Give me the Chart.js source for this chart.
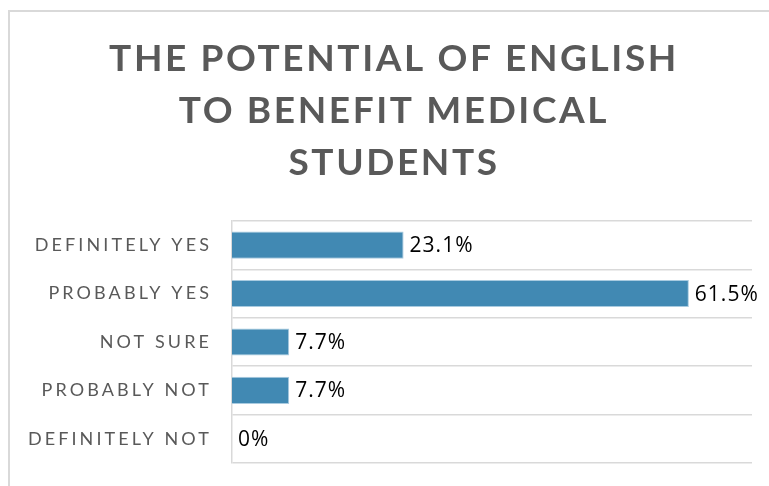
<!DOCTYPE html>
<html>
<head>
<meta charset="utf-8">
<script src="https://cdn.jsdelivr.net/npm/chart.js@4/dist/chart.umd.min.js"></script>
<style>
  html, body { margin: 0; padding: 0; background: #fff; }
  #wrap { width: 769px; height: 486px; position: relative; }
</style>
</head>
<body>
<div id="wrap"><canvas id="chart"></canvas></div>
<script>
// Survey answers, top to bottom
var categories = ['DEFINITELY YES', 'PROBABLY YES', 'NOT SURE', 'PROBABLY NOT', 'DEFINITELY NOT'];
var percentages = [23.1, 61.5, 7.7, 7.7, 0];
var valueLabels = ['23.1%', '61.5%', '7.7%', '7.7%', '0%'];
var titleLines = ['THE POTENTIAL OF ENGLISH', 'TO BENEFIT MEDICAL', 'STUDENTS'];

var gray = '#595959';
var lineGray = '#d9d9d9';

// letter spacing for the title and the category labels
var spacing = {
    id: 'spacing',
    beforeDraw: function(chart) {
        var y = chart.scales.y;
        if (y && !y._spaced) {
            var drawLabels = y.drawLabels;
            y._computeLabelArea = function() { return undefined; };  // long labels run past the axis box
            y.drawLabels = function(area) {
                var c = this.ctx;
                c.save();
                c.letterSpacing = '3.1px';
                drawLabels.call(this, area);
                c.restore();
            };
            y._spaced = true;
        }
        var t = chart.titleBlock;
        if (t && !t._spaced) {
            var drawTitle = t.draw;
            t.draw = function() {
                var c = this.ctx;
                c.save();
                c.letterSpacing = '2.6px';
                drawTitle.apply(this, arguments);
                c.restore();
            };
            t._spaced = true;
        }
    }
};

// thin frame along the top and left
var frame = {
    id: 'frame',
    beforeDraw: function(chart) {
        var c = chart.ctx;
        c.save();
        c.strokeStyle = lineGray;
        c.lineWidth = 2;
        c.beginPath();
        c.moveTo(9, chart.height);
        c.lineTo(9, 11);
        c.lineTo(chart.width, 11);
        c.stroke();
        c.restore();
    }
};

// value labels just past the end of each bar
var barLabels = {
    id: 'barLabels',
    afterDatasetsDraw: function(chart) {
        var c = chart.ctx;
        var meta = chart.getDatasetMeta(0);
        c.save();
        c.letterSpacing = '1px';
        c.font = '21px "Open Sans"';
        c.fillStyle = '#000';
        c.textAlign = 'left';
        c.textBaseline = 'middle';
        meta.data.forEach(function(bar, i) {
            c.fillText(valueLabels[i], bar.x + 6, bar.y + 1);
        });
        c.restore();
    }
};

var ctx = document.getElementById('chart').getContext('2d');
var chart = new Chart(ctx, {
    type: 'bar',
    data: {
        labels: categories,
        datasets: [{
            data: percentages,
            backgroundColor: '#4189b3',
            borderColor: '#a9cbe0',
            borderWidth: 1,
            borderSkipped: 'start',
            categoryPercentage: 1,
            barPercentage: 0.56
        }]
    },
    options: {
        indexAxis: 'y',
        responsive: true,
        maintainAspectRatio: false,
        animation: false,
        layout: { padding: { top: 11, left: 36, right: 17, bottom: 23 } },
        plugins: {
            legend: { display: false },
            tooltip: { enabled: false },
            title: {
                display: true,
                text: titleLines,
                color: gray,
                font: { family: 'Lato', size: 37, weight: 'bold', lineHeight: 1.405 },
                padding: { top: 22, bottom: 32 }
            }
        },
        scales: {
            x: {
                display: false,
                min: 0,
                max: 70
            },
            y: {
                grid: { color: lineGray, lineWidth: 1.5, drawTicks: false },
                border: { display: true, color: lineGray, width: 1.5 },
                ticks: {
                    color: gray,
                    padding: 20,
                    font: { family: 'Lato', size: 18 }
                },
                afterFit: function(scale) {
                    scale.width = 196;
                    scale.paddingTop = 0;
                    scale.paddingBottom = 0;
                }
            }
        }
    },
    plugins: [spacing, frame, barLabels]
});
</script>
</body>
</html>
